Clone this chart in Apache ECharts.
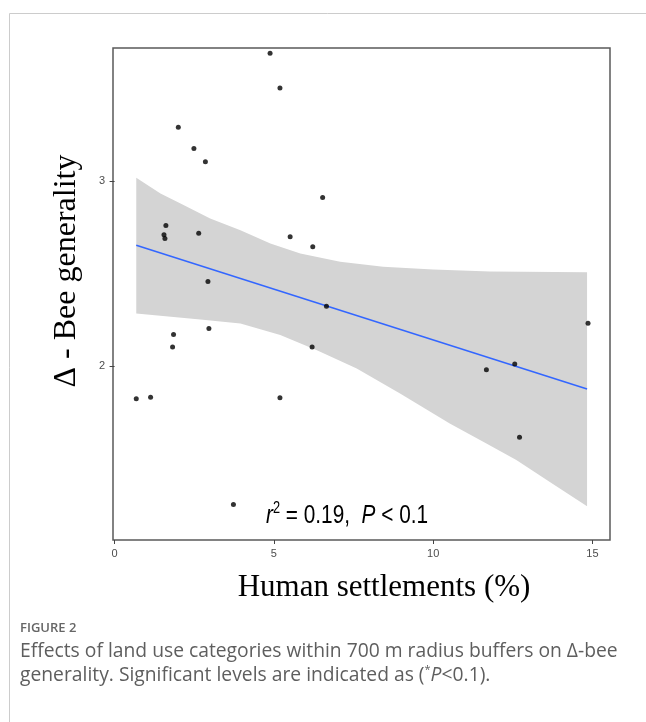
<!DOCTYPE html>
<html>
<head>
<meta charset="utf-8">
<script src="https://cdn.jsdelivr.net/npm/echarts@6/dist/echarts.min.js"></script>
<style>
html,body{margin:0;padding:0;background:#fff;}
#main{width:646px;height:722px;}
</style>
</head>
<body>
<div id="main"></div>
<script>
// points
var ptX = [4.88, 5.19, 2.00, 2.49, 2.85, 6.53, 1.61, 1.55, 1.58, 2.64, 5.51, 6.22, 2.93,
	6.65, 14.86, 1.85, 2.96, 1.82, 6.20, 12.56, 11.67, 0.68, 1.13, 5.19, 12.71, 3.73];
var ptY = [3.692, 3.504, 3.292, 3.177, 3.105, 2.912, 2.760, 2.710, 2.690, 2.719, 2.700, 2.645, 2.458,
	2.324, 2.232, 2.171, 2.204, 2.103, 2.103, 2.011, 1.980, 1.823, 1.832, 1.829, 1.616, 1.252];

// fitted line ends
var fitX = [0.68, 14.83];
var fitY = [2.654, 1.876];

// confidence band edges
var upX = [0.68, 1.44, 2.07, 3.0, 3.95, 4.89, 5.83, 7.08, 8.43, 10.0, 11.78, 14.83];
var upY = [3.018, 2.933, 2.879, 2.798, 2.735, 2.663, 2.609, 2.564, 2.537, 2.523, 2.512, 2.508];
var loX = [0.68, 2.69, 3.95, 5.2, 6.35, 7.6, 8.96, 10.52, 11.67, 12.61, 13.65, 14.83];
var loY = [2.285, 2.252, 2.231, 2.168, 2.086, 1.987, 1.852, 1.690, 1.582, 1.492, 1.375, 1.243];

var xTicks = [0, 5, 10, 15];
var yTicks = [2, 3];

var pts = [];
for (var i = 0; i < ptX.length; i++) pts.push([ptX[i], ptY[i]]);
var fit = [];
for (var i = 0; i < fitX.length; i++) fit.push([fitX[i], fitY[i]]);
var band = [];
for (var i = 0; i < upX.length; i++) band.push([upX[i], upY[i]]);
for (var i = loX.length - 1; i >= 0; i--) band.push([loX[i], loY[i]]);

var myChart = echarts.init(document.getElementById('main'));
var option = {
	animation: false,
	backgroundColor: '#fff',
	grid: {left: 113, top: 48, right: 36, bottom: 182, show: true, borderColor: '#5a5a5a', borderWidth: 1.5, backgroundColor: 'transparent'},
	xAxis: {
		type: 'value', min: -0.05, max: 15.55,
		axisLine: {show: false},
		splitLine: {show: false},
		axisTick: {show: true, length: 4, customValues: xTicks, lineStyle: {color: '#444'}},
		axisLabel: {customValues: xTicks, color: '#4d4d4d', fontSize: 11, fontFamily: 'Liberation Sans', margin: 8}
	},
	yAxis: {
		type: 'value', min: 1.06, max: 3.72,
		axisLine: {show: false},
		splitLine: {show: false},
		axisTick: {show: true, length: 5, customValues: yTicks, lineStyle: {color: '#444'}},
		axisLabel: {customValues: yTicks, color: '#4d4d4d', fontSize: 11, fontFamily: 'Liberation Sans', margin: 8}
	},
	series: [
		{
			type: 'custom',
			silent: true,
			data: band,
			renderItem: function (params, api) {
				if (params.dataIndex !== 0) return null;
				var poly = [];
				for (var k = 0; k < band.length; k++) poly.push(api.coord(band[k]));
				return {type: 'polygon', shape: {points: poly}, style: {fill: '#d4d4d4'}};
			},
			z: 1
		},
		{
			type: 'line',
			data: fit,
			symbol: 'none',
			lineStyle: {color: '#3366ff', width: 1.5},
			z: 2
		},
		{
			type: 'scatter',
			data: pts,
			symbolSize: 5,
			itemStyle: {color: '#000'},
			z: 3
		}
	],
	graphic: [
		{type: 'line', shape: {x1: 9.5, y1: 13.5, x2: 646, y2: 13.5}, style: {stroke: '#cccccc', lineWidth: 1}},
		{type: 'line', shape: {x1: 9.5, y1: 13.5, x2: 9.5, y2: 722}, style: {stroke: '#cccccc', lineWidth: 1}},
		{
			type: 'text', x: 266, y: 516, scaleX: 0.8,
			style: {
				text: '{i|r}{s|2}{n| = 0.19,  }{i|P}{n| < 0.1}',
				verticalAlign: 'middle',
				rich: {
					i: {fontStyle: 'italic', fontSize: 26, fontFamily: 'Liberation Sans', fill: '#000', lineHeight: 30},
					s: {fontSize: 16, fontFamily: 'Liberation Sans', fill: '#000', verticalAlign: 'top', lineHeight: 30},
					n: {fontSize: 26, fontFamily: 'Liberation Sans', fill: '#000', lineHeight: 30}
				}
			}
		},
		{
			type: 'text', x: 67, y: 271, rotation: Math.PI / 2,
			style: {text: 'Δ - Bee generality', font: '32px "Liberation Serif"', fill: '#000', align: 'center', verticalAlign: 'middle'}
		},
		{
			type: 'text', x: 384, y: 588,
			style: {text: 'Human settlements (%)', font: '31px "Liberation Serif"', fill: '#000', align: 'center', verticalAlign: 'middle'}
		},
		{
			type: 'text', x: 20, y: 628,
			style: {text: 'FIGURE 2', font: '600 13px "Open Sans"', fill: '#666', verticalAlign: 'middle'}
		},
		{
			type: 'text', x: 20, y: 652,
			style: {text: 'Effects of land use categories within 700 m radius buffers on Δ-bee', font: '19.3px "Open Sans"', fill: '#5e5e5e', verticalAlign: 'middle'}
		},
		{
			type: 'text', x: 20, y: 676,
			style: {
				text: '{n|generality. Significant levels are indicated as (}{s|*}{i|P}{n|<0.1).}',
				verticalAlign: 'middle',
				rich: {
					n: {fontSize: 19.3, fontFamily: 'Open Sans', fill: '#5e5e5e', lineHeight: 24},
					i: {fontSize: 19.3, fontFamily: 'Open Sans', fontStyle: 'italic', fill: '#5e5e5e', lineHeight: 24},
					s: {fontSize: 11, fontFamily: 'Open Sans', fill: '#5e5e5e', verticalAlign: 'top', lineHeight: 24}
				}
			}
		}
	]
};
myChart.setOption(option);
</script>
</body>
</html>
